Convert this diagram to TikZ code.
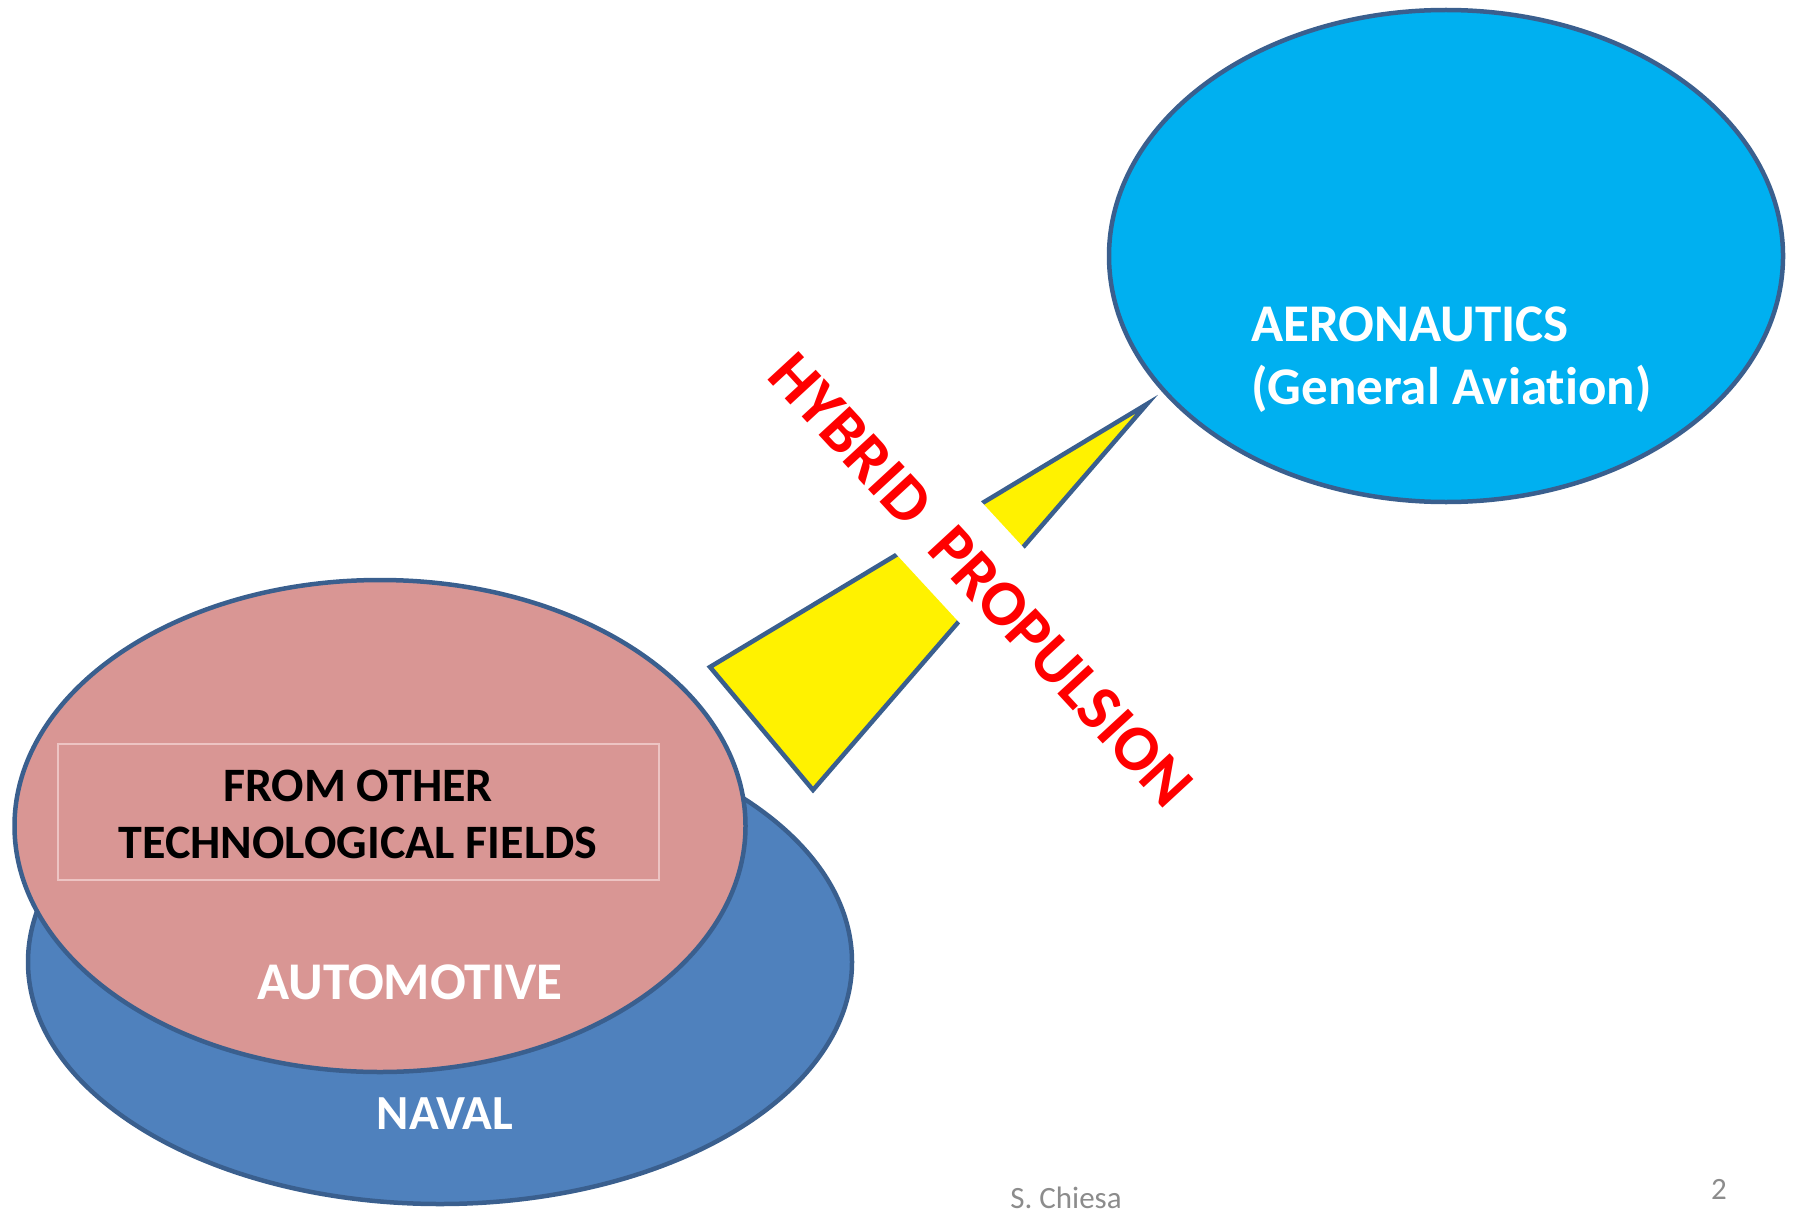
\documentclass[tikz,border=0pt]{standalone}
\usepackage{fontspec}
\setmainfont{Carlito}[RawFeature=-liga]
\usetikzlibrary{shapes.geometric}
\definecolor{outl}{HTML}{3A5F8E}
\definecolor{aero}{HTML}{00B0F0}
\definecolor{navalc}{HTML}{4F81BD}
\definecolor{autoc}{HTML}{D99694}
\definecolor{boxc}{HTML}{EDC4C3}
\definecolor{foot}{HTML}{8C8C8C}
\begin{document}
\begin{tikzpicture}[x=1pt,y=-1pt,
 blob/.style={ellipse, draw=outl, line width=4.5pt, inner sep=0pt},
 wlbl/.style={font=\fontsize{53}{64}\selectfont\bfseries, text=white, inner sep=0pt},
 footlbl/.style={font=\fontsize{31}{36}\selectfont, text=foot, inner sep=0pt}]
\useasboundingbox (0,0) rectangle (1795,1209);
% naval and automotive
\node[blob, fill=navalc, minimum width=824pt, minimum height=484pt] (naval) at (440,962) {};
\node[blob, fill=autoc, minimum width=731pt, minimum height=492pt] (auto) at (380,826) {};
\node[draw=boxc, line width=2pt, minimum width=601pt, minimum height=136pt, inner sep=0pt] (box) at (358.5,812) {};
\node[font=\fontsize{48}{57}\selectfont\bfseries, inner sep=0pt, anchor=base] (from1) at (358,801) {FROM OTHER};
\node[font=\fontsize{48}{57}\selectfont\bfseries, inner sep=0pt, anchor=base] (from2) at (358,858) {TECHNOLOGICAL FIELDS};
\node[wlbl, anchor=base] (autolbl) at (410,999) {AUTOMOTIVE};
\node[wlbl, font=\fontsize{49}{60}\selectfont\bfseries, anchor=base] (navallbl) at (445,1129) {NAVAL};
% aeronautics
\node[blob, fill=aero, minimum width=674pt, minimum height=492pt] (aero) at (1446,256) {};
\node[wlbl, anchor=base west] (aero1) at (1251,341) {AERONAUTICS};
\node[wlbl, anchor=base west] (aero2) at (1251,404) {(General Aviation)};
% yellow arrow
\coordinate (tip) at (1147,404);
\coordinate (lc) at (710,667);
\coordinate (bc) at (813,790);
\draw[fill=yellow, draw=outl, line width=4.5pt] (tip) -- (lc) -- (bc) -- cycle;
% hybrid propulsion label with white band
\node[rotate=-47.3, fill=white, text=red, font=\fontsize{65}{70}\selectfont\bfseries,
  text height=51pt, text depth=0pt, minimum height=98pt, inner ysep=0pt, inner xsep=4pt]
  (hyb) at (984,577) {HYBRID\hspace{0.45em}PROPULSION};
% footer
\node[footlbl, anchor=base] (author) at (1066,1208) {S. Chiesa};
\node[footlbl, anchor=base] (page) at (1719,1199) {2};
\end{tikzpicture}
\end{document}
